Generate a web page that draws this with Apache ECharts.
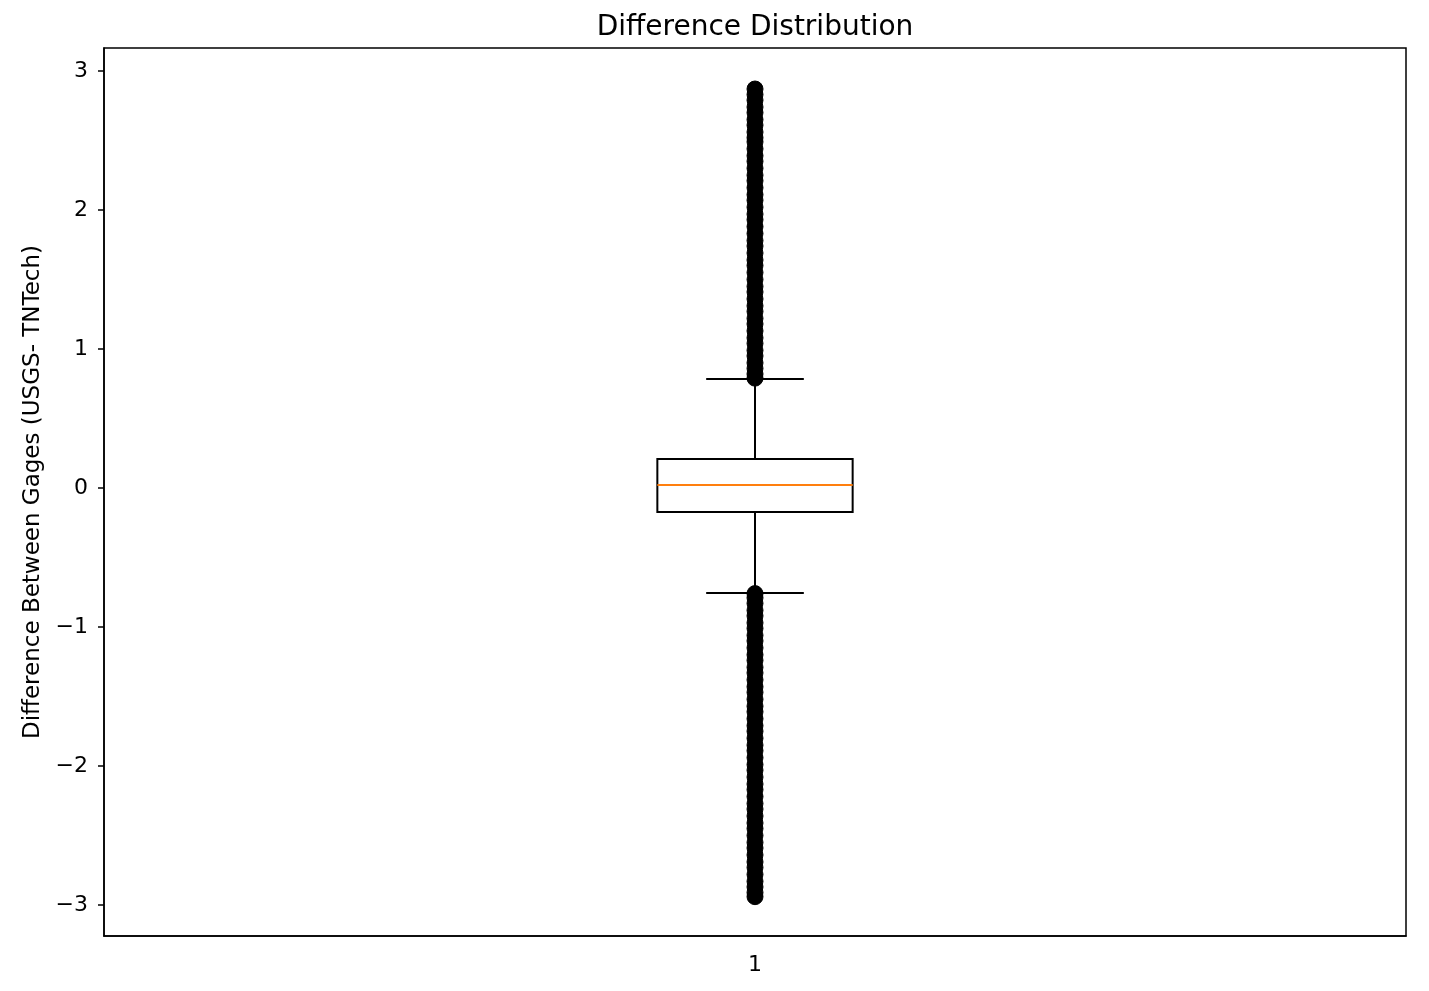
<!DOCTYPE html>
<html>
<head>
<meta charset="utf-8">
<title>Difference Distribution</title>
<script src="https://cdn.jsdelivr.net/npm/echarts@6/dist/echarts.min.js"></script>
<style>
  html, body { margin: 0; padding: 0; background: #fff; }
  #chart { width: 1429px; height: 991px; }
</style>
</head>
<body>
<div id="chart"></div>
<script>
// box summary: [low whisker, Q1, median, Q3, high whisker]
const categories = ['1']
const boxStats = [-0.755, -0.173, 0.022, 0.209, 0.784]
const yTicks = [-3, -2, -1, 0, 1, 2, 3]

// fliers (they overlap into a solid column in the original)
const upperFliers = [
  0.79, 0.82, 0.86, 0.9, 0.95, 0.99, 1.04, 1.08, 1.13, 1.18, 1.22, 1.27,
  1.31, 1.36, 1.41, 1.45, 1.5, 1.55, 1.6, 1.64, 1.69, 1.74, 1.78, 1.83,
  1.88, 1.93, 1.97, 2.02, 2.07, 2.11, 2.16, 2.21, 2.25, 2.3, 2.35, 2.39,
  2.44, 2.49, 2.52, 2.56, 2.61, 2.65, 2.7, 2.74, 2.79, 2.83, 2.87
]
const lowerFliers = [
  -0.76, -0.79, -0.83, -0.88, -0.92, -0.97, -1.01, -1.06, -1.1, -1.15,
  -1.2, -1.24, -1.29, -1.33, -1.38, -1.43, -1.47, -1.52, -1.57, -1.61,
  -1.66, -1.71, -1.75, -1.8, -1.85, -1.89, -1.94, -1.99, -2.03, -2.08,
  -2.13, -2.17, -2.22, -2.27, -2.31, -2.36, -2.41, -2.45, -2.5, -2.55,
  -2.59, -2.64, -2.69, -2.73, -2.78, -2.83, -2.87, -2.91, -2.94
]

const FONT = 'DejaVu Sans'
const chart = echarts.init(document.getElementById('chart'))

function renderBox(params, api) {
  const x = api.value(0)
  const low = api.coord([x, api.value(1)])
  const q1 = api.coord([x, api.value(2)])
  const med = api.coord([x, api.value(3)])
  const q3 = api.coord([x, api.value(4)])
  const high = api.coord([x, api.value(5)])
  const band = api.size([1, 0])[0]
  const half = band * 0.15 / 2
  const cap = half / 2
  const cx = low[0]
  const line = { stroke: '#000', lineWidth: 2 }
  return {
    type: 'group',
    children: [
      { type: 'line', shape: { x1: cx, y1: q3[1], x2: cx, y2: high[1] }, style: line },
      { type: 'line', shape: { x1: cx, y1: q1[1], x2: cx, y2: low[1] }, style: line },
      { type: 'line', shape: { x1: cx - cap, y1: high[1], x2: cx + cap, y2: high[1] }, style: line },
      { type: 'line', shape: { x1: cx - cap, y1: low[1], x2: cx + cap, y2: low[1] }, style: line },
      {
        type: 'rect',
        shape: { x: cx - half, y: q3[1], width: half * 2, height: q1[1] - q3[1] },
        style: { fill: 'none', stroke: '#000', lineWidth: 2 }
      },
      { type: 'line', shape: { x1: cx - half, y1: med[1], x2: cx + half, y2: med[1] }, style: { stroke: '#ff7f0e', lineWidth: 2 } }
    ]
  }
}

const option = {
  animation: false,
  backgroundColor: '#fff',
  title: {
    text: 'Difference Distribution',
    left: 750,
    textAlign: 'center',
    top: 9,
    textStyle: { fontFamily: FONT, fontSize: 28, fontWeight: 'normal', color: '#000' }
  },
  grid: {
    left: 104, right: 23, top: 48, bottom: 55,
    show: true, borderColor: '#000', borderWidth: 1.5, backgroundColor: 'transparent'
  },
  xAxis: {
    type: 'category',
    data: categories,
    axisLine: { onZero: false, lineStyle: { color: '#000', width: 1.5 } },
    axisTick: { alignWithLabel: true, length: 6, lineStyle: { color: '#000', width: 1.5 } },
    axisLabel: { fontFamily: FONT, fontSize: 22, color: '#000', margin: 18 },
    splitLine: { show: false }
  },
  yAxis: {
    type: 'value',
    min: -3.223,
    max: 3.165,
    name: 'Difference Between Gages (USGS- TNTech)',
    nameLocation: 'middle',
    nameGap: 59,
    nameTextStyle: { fontFamily: FONT, fontSize: 23, color: '#000' },
    axisLine: { show: true, lineStyle: { color: '#000', width: 1.5 } },
    axisTick: { show: true, length: 6, customValues: yTicks, lineStyle: { color: '#000', width: 1.5 } },
    axisLabel: {
      fontFamily: FONT, fontSize: 22, color: '#000', margin: 16,
      customValues: yTicks,
      formatter: v => String(v).replace('-', '\u2212')
    },
    splitLine: { show: false }
  },
  series: [
    {
      type: 'custom',
      renderItem: renderBox,
      encode: { x: 0, y: [1, 2, 3, 4, 5] },
      data: [[0].concat(boxStats)],
      z: 2
    },
    {
      type: 'scatter',
      symbol: 'circle',
      symbolSize: 16,
      itemStyle: { color: '#000', borderColor: '#000', borderWidth: 1, opacity: 1 },
      data: upperFliers.concat(lowerFliers).map(v => [0, v]),
      z: 3
    }
  ]
}

chart.setOption(option)
</script>
</body>
</html>
